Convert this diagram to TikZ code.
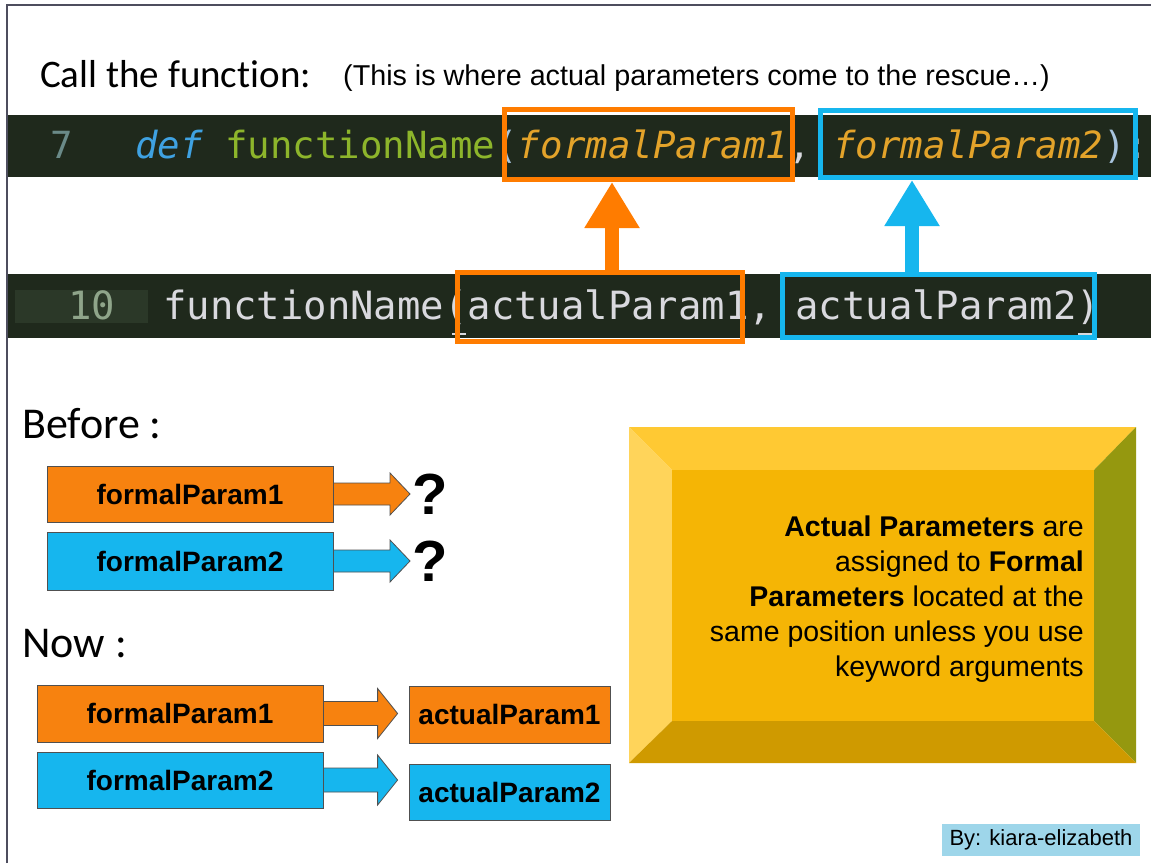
\documentclass[tikz,border=0pt]{standalone}
\usepackage{fontspec}
\setmainfont{Liberation Sans}
\newfontfamily\calib[Ligatures={NoCommon}]{Carlito}
\newfontfamily\monof{DejaVu Sans Mono}
\usetikzlibrary{arrows.meta,calc}
\definecolor{framec}{HTML}{4E4E5E}
\definecolor{codebg}{HTML}{1F291C}
\definecolor{lnbg}{HTML}{2B3828}
\definecolor{lnone}{HTML}{6A8A88}
\definecolor{lntwo}{HTML}{8FA58A}
\definecolor{defblue}{HTML}{3FA2E2}
\definecolor{fngreen}{HTML}{8DB52B}
\definecolor{pgold}{HTML}{E3A32A}
\definecolor{parenc}{HTML}{A8C4DE}
\definecolor{bartext}{HTML}{D9D9DE}
\definecolor{orng}{HTML}{FF7C00}
\definecolor{orfill}{HTML}{F7820F}
\definecolor{cyanb}{HTML}{16B6EE}
\definecolor{edgec}{HTML}{505050}
\definecolor{yface}{HTML}{F5B505}
\definecolor{ytop}{HTML}{FFC933}
\definecolor{yleft}{HTML}{FFD45A}
\definecolor{yright}{HTML}{95980F}
\definecolor{ybot}{HTML}{CF9A00}
\definecolor{bybg}{HTML}{9ED6EA}
\tikzset{
  hlbox/.style={draw=#1, line width=5pt, fill=none, inner sep=0pt},
  parbox/.style={draw=edgec, line width=0.8pt, fill=#1, inner sep=0pt,
     font=\fontsize{28}{30}\selectfont\bfseries},
  uparrow/.style={draw=#1, line width=14pt, -{Triangle[width=52pt,length=46pt]}},
  qmark/.style={font=\fontsize{58}{60}\selectfont\bfseries, inner sep=2pt},
  heading/.style={font=\calib\fontsize{44}{48}\selectfont, inner sep=0pt, anchor=base west}
}
\newcommand\blkarrow[6]{%
  \filldraw[fill=#6, draw=edgec, line width=0.8pt]
    ($(#1)+(0,-#3)$) -- ($(#2)+(-#5,-#3)$) -- ($(#2)+(-#5,-#4)$) -- (#2)
    -- ($(#2)+(-#5,#4)$) -- ($(#2)+(-#5,#3)$) -- ($(#1)+(0,#3)$) -- cycle;}
\begin{document}
\begin{tikzpicture}[x=1pt,y=-1pt]
\useasboundingbox (0,0) rectangle (1151,863);
\fill[white] (0,0) rectangle (1151,863);
% frame
\draw[framec, line width=2.5pt] (7,863) -- (7,5) -- (1151,5);

% title
\node[heading, font=\calib\fontsize{39}{44}\selectfont] (title) at (40,87) {Call the function:};
\node[anchor=base west, inner sep=0pt, font=\fontsize{28.7}{30}\selectfont] (sub) at (343,85)
  {(This is where actual parameters come to the rescue\ldots)};

% code bar 1
\fill[codebg] (8,115) rectangle (1151,177);
\node[anchor=base west, inner sep=0pt, text=lnone, font=\monof\fontsize{37.4}{40}\selectfont] (ln7) at (50,158) {7};
\node[anchor=base west, inner sep=0pt, font=\monof\fontsize{37.4}{40}\selectfont] (code1) at (135,158)
  {{\color{defblue}\itshape def} {\color{fngreen}functionName}{\color{parenc}(}{\color{pgold}\itshape formalParam1}{\color{bartext}, }{\color{pgold}\itshape formalParam2}{\color{parenc})}{\color{white}:}};

% code bar 2
\fill[codebg] (8,274) rectangle (1151,338);
\fill[lnbg] (15,290) rectangle (148,323);
\node[anchor=base west, inner sep=0pt, text=lntwo, font=\monof\fontsize{38.9}{40}\selectfont] (ln10) at (68,319) {10};
\node[anchor=base west, inner sep=0pt, text=bartext, font=\monof\fontsize{38.9}{40}\selectfont] (code2) at (163,319)
  {functionName(actualParam1, actualParam2)};
\draw[bartext, line width=1.5pt] (452,334) -- (466,334);
\draw[bartext, line width=1.5pt] (1078,334) -- (1094,334);

% highlight boxes
\node[hlbox=orng, minimum width=288pt, minimum height=70pt] (ob1) at (648.5,144.5) {};
\node[hlbox=cyanb, minimum width=315pt, minimum height=67pt] (cb1) at (978,144) {};
\node[hlbox=orng, minimum width=285pt, minimum height=69pt] (ob2) at (600,307) {};
\node[hlbox=cyanb, minimum width=312pt, minimum height=63pt] (cb2) at (938.5,306) {};

\coordinate (oax) at (612,0);
\coordinate (cax) at (912,0);
\draw[uparrow=orng] (ob2.north -| oax) -- (ob1.south -| oax);
\draw[uparrow=cyanb] (cb2.north -| cax) -- (cb1.south -| cax);

% Before
\node[heading] (before) at (22,438) {Before :};
\node[parbox=orfill, minimum width=286pt, minimum height=56pt] (bf1) at (190,494) {formalParam1};
\node[parbox=cyanb, minimum width=286pt, minimum height=58pt] (bf2) at (190,561) {formalParam2};
\node[qmark, anchor=west] (q1) at (410,494) {?};
\node[qmark, anchor=west] (q2) at (410,561) {?};
\blkarrow{bf1.east}{q1.west}{11}{21}{20}{orfill}
\blkarrow{bf2.east}{q2.west}{11}{21}{20}{cyanb}

% Now
\node[heading] (now) at (22,657) {Now :};
\node[parbox=orfill, minimum width=286pt, minimum height=57pt] (nf1) at (180,713.5) {formalParam1};
\node[parbox=cyanb, minimum width=286pt, minimum height=56pt] (nf2) at (180,780) {formalParam2};
\node[parbox=orfill, minimum width=201pt, minimum height=57pt] (na1) at (509.5,714.5) {actualParam1};
\node[parbox=cyanb, minimum width=201pt, minimum height=56pt] (na2) at (509.5,792) {actualParam2};
\coordinate (t3) at ($(na1.west |- nf1.east)+(-11,0)$);
\coordinate (t4) at ($(na2.west |- nf2.east)+(-11,0)$);
\blkarrow{nf1.east}{t3}{12}{25}{20}{orfill}
\blkarrow{nf2.east}{t4}{12}{25}{20}{cyanb}

% bevel box
\fill[ytop] (629,427) -- (1136,427) -- (1094,470) -- (672,470) -- cycle;
\fill[yleft] (629,427) -- (672,470) -- (672,721) -- (629,763) -- cycle;
\fill[yright] (1136,427) -- (1136,763) -- (1094,721) -- (1094,470) -- cycle;
\fill[ybot] (629,763) -- (1136,763) -- (1094,721) -- (672,721) -- cycle;
\fill[yface] (672,470) rectangle (1094,721);
\node[anchor=north east, align=right, inner sep=0pt, font=\fontsize{28.5}{35}\selectfont] (note) at (1084,516)
  {\textbf{Actual Parameters} are\\assigned to \textbf{Formal}\\\textbf{Parameters} located at the\\same position unless you use\\keyword arguments};

% credit
\node[fill=bybg, inner sep=0pt, minimum width=198pt, minimum height=32pt, font=\fontsize{22}{24}\selectfont] (by) at (1041,840) {By: kiara-elizabeth};
\end{tikzpicture}
\end{document}
